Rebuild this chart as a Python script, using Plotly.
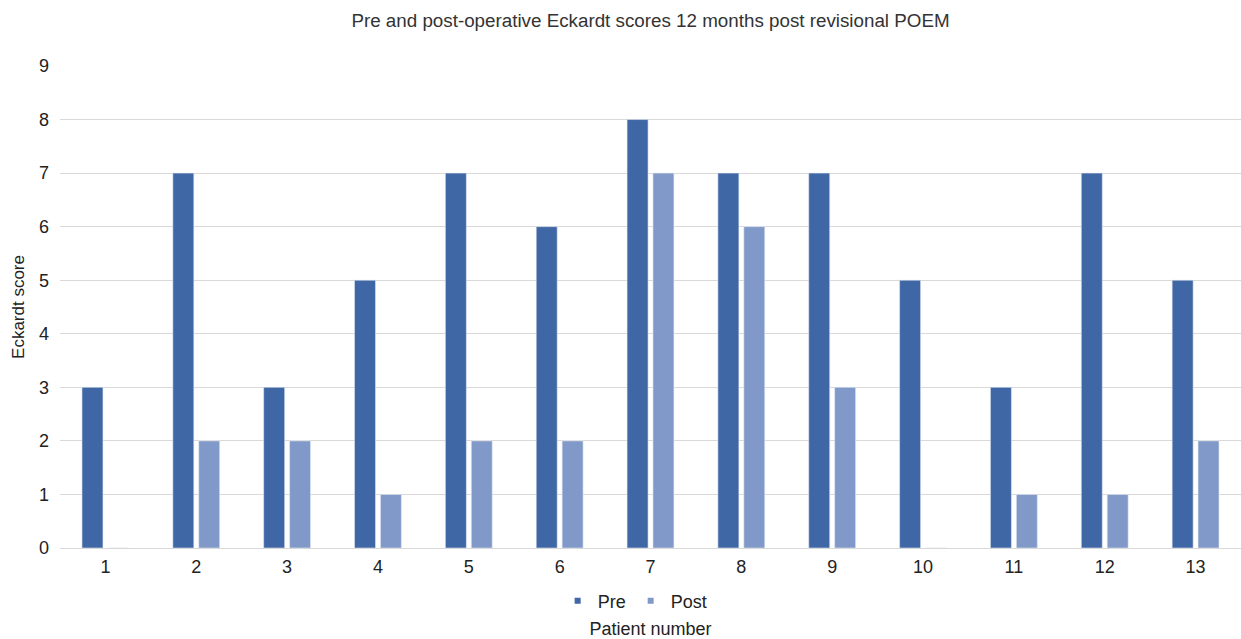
import plotly.graph_objects as go

patients = [str(i) for i in range(1, 14)]
pre = [3, 7, 3, 5, 7, 6, 8, 7, 7, 5, 3, 7, 5]
post = [0, 2, 2, 1, 2, 2, 7, 6, 3, 0, 1, 1, 2]
y_ticks = list(range(0, 10))

PRE_COLOR = "#3F66A5"
POST_COLOR = "#8199C8"
FONT = "Liberation Sans, Arial, Helvetica, sans-serif"

fig = go.Figure()
fig.add_trace(go.Bar(x=patients, y=pre, name="Pre", marker_color=PRE_COLOR,
                     marker_line=dict(color="#DDE4F0", width=0.6), showlegend=False))
fig.add_trace(go.Bar(x=patients, y=post, name="Post", marker_color=POST_COLOR,
                     marker_line=dict(color="#E6EBF4", width=0.6), showlegend=False))
# legend proxies with small square markers
fig.add_trace(go.Scatter(x=[None], y=[None], mode="markers", name="Pre",
                         marker=dict(symbol="square", size=6, color=PRE_COLOR)))
fig.add_trace(go.Scatter(x=[None], y=[None], mode="markers", name="Post",
                         marker=dict(symbol="square", size=6, color=POST_COLOR)))

fig.update_layout(
    width=1241, height=639,
    margin=dict(l=60, r=0, t=66, b=91),
    paper_bgcolor="white", plot_bgcolor="white",
    font=dict(family=FONT, color="#222222", size=18),
    title=dict(text="Pre and post-operative Eckardt scores 12 months post revisional POEM",
               x=0.5, xref="paper", xanchor="center", y=0.968, yanchor="middle",
               font=dict(size=18.8, color="#333333")),
    barmode="group", bargap=0.43, bargroupgap=0.19,
    legend=dict(orientation="h", x=0.487, xanchor="center", y=-0.11, yanchor="middle",
                font=dict(size=18), itemwidth=30, tracegroupgap=0),
    xaxis=dict(type="category", showgrid=False, showline=False, ticks="",
               tickfont=dict(size=18), ticklabelstandoff=6, automargin=False,
               title=dict(text="Patient number", standoff=50, font=dict(size=18))),
    yaxis=dict(range=[0, 9], tickvals=y_ticks, showgrid=True, gridcolor="#D9D9D9",
               gridwidth=1.2, zeroline=True, zerolinecolor="#D9D9D9", zerolinewidth=1.2,
               showline=False, ticks="", ticklabelstandoff=10,
               tickfont=dict(size=18),
               title=dict(text="Eckardt score", standoff=10, font=dict(size=17))),
)

fig.write_html("out.html", config={"displayModeBar": False},
               post_script="document.body.style.margin='0';document.body.style.overflow='hidden';")
